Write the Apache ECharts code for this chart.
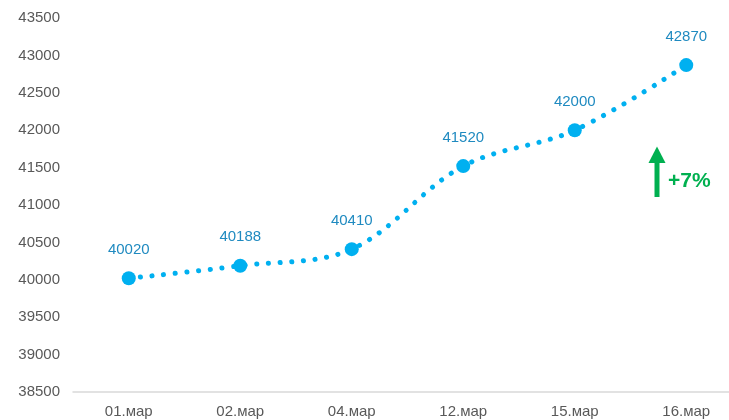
<!DOCTYPE html>
<html><head><meta charset="utf-8">
<script src="https://cdn.jsdelivr.net/npm/echarts@6/dist/echarts.min.js"></script>
<style>html,body{margin:0;padding:0;background:#fff}#c{width:729px;height:420px}</style>
</head><body><div id="c"></div>
<script>
const categories = ['01.мар','02.мар','04.мар','12.мар','15.мар','16.мар'];
const values = [40020, 40188, 40410, 41520, 42000, 42870];
const changeLabel = '+7%';
const chart = echarts.init(document.getElementById('c'));
chart.setOption({
  animation: false,
  grid: {left: 73, width: 669, top: 18, bottom: 28, outerBoundsMode: 'none', containLabel: false},
  xAxis: {
    type: 'category', data: categories, boundaryGap: true,
    axisLine: {lineStyle: {color: '#d9d9d9', width: 1.5}},
    axisTick: {show: false},
    axisLabel: {color: '#595959', fontSize: 15, fontFamily: 'Liberation Sans', margin: 12}
  },
  yAxis: {
    type: 'value', min: 38500, max: 43500, interval: 500,
    axisLine: {show: false}, axisTick: {show: false}, splitLine: {show: false},
    axisLabel: {color: '#595959', fontSize: 15, fontFamily: 'Liberation Sans', margin: 13, formatter: v => String(v)}
  },
  series: [{
    type: 'line', data: values, smooth: 0.35,
    symbol: 'circle', symbolSize: 14,
    itemStyle: {color: '#00B0F0'},
    lineStyle: {color: '#00B0F0', width: 5, type: [0.1, 11.6], cap: 'round'},
    label: {show: true, position: 'top', distance: 14, color: '#1F8AC0', fontSize: 15, fontFamily: 'Liberation Sans'}
  }],
  graphic: [
    {type: 'rect', shape: {x: 654.5, y: 161, width: 5, height: 36}, style: {fill: '#00B050'}},
    {type: 'polygon', shape: {points: [[657, 146.5], [648.5, 163], [665.5, 163]]}, style: {fill: '#00B050'}},
    {type: 'text', x: 668, y: 181, style: {text: changeLabel, fill: '#00B050', fontSize: 21, fontWeight: 'bold', fontFamily: 'Liberation Sans', verticalAlign: 'middle'}}
  ]
});
</script></body></html>
